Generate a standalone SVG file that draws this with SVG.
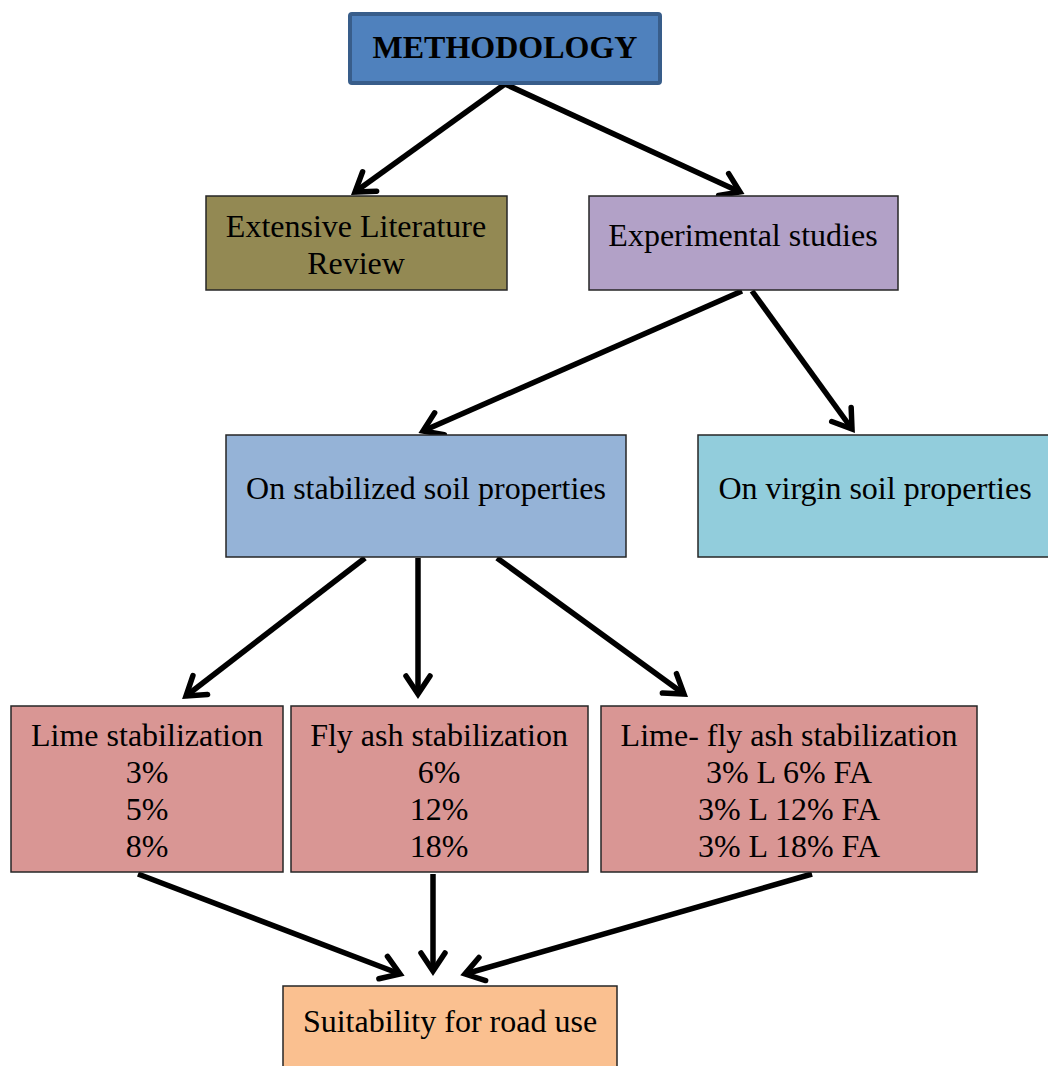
<svg xmlns="http://www.w3.org/2000/svg" width="1048" height="1066" viewBox="0 0 1048 1066">
  <style>
    .box { stroke: #262626; stroke-width: 1.5; }
    .t { font-family: "Liberation Serif", "Times New Roman", serif; font-size: 32px; fill: #000; text-anchor: middle; }
    .tb { font-weight: bold; }
    .edge { stroke: #000; stroke-width: 5.5; fill: none; marker-end: url(#head); }
  </style>
  <defs>
    <marker id="head" markerUnits="userSpaceOnUse" markerWidth="40" markerHeight="40" viewBox="-30 -20 40 40" refX="0" refY="0" orient="auto" overflow="visible">
      <path d="M-18,-12 L0,0 L-18,12" stroke="#000" stroke-width="5.5" fill="none" stroke-linecap="round" stroke-linejoin="miter"/>
    </marker>
  </defs>
  <rect width="1048" height="1066" fill="#fff"/>

  <g id="connectors">
    <line class="edge" x1="505" y1="84" x2="355" y2="192"/>
    <line class="edge" x1="505" y1="84" x2="740" y2="192"/>
    <line class="edge" x1="742" y1="291" x2="423" y2="431"/>
    <line class="edge" x1="752" y1="291" x2="852" y2="429"/>
    <line class="edge" x1="365" y1="558" x2="186" y2="696"/>
    <line class="edge" x1="418" y1="558" x2="418" y2="694"/>
    <line class="edge" x1="497" y1="558" x2="684" y2="694"/>
    <line class="edge" x1="138" y1="874" x2="400" y2="974"/>
    <line class="edge" x1="433" y1="874" x2="433" y2="971"/>
    <line class="edge" x1="812" y1="874" x2="465" y2="974"/>
  </g>

  <g id="methodology">
    <rect x="350" y="14" width="310" height="69" rx="2" fill="#4F81BD" stroke="#385D8A" stroke-width="4"/>
    <text class="t tb" x="505" y="58">METHODOLOGY</text>
  </g>

  <g id="literature-review">
    <rect class="box" x="206" y="196" width="301" height="94" fill="#938953"/>
    <text class="t" x="356" y="237">Extensive Literature</text>
    <text class="t" x="356" y="274">Review</text>
  </g>

  <g id="experimental-studies">
    <rect class="box" x="589" y="196" width="309" height="94" fill="#B2A1C7"/>
    <text class="t" x="743" y="246">Experimental studies</text>
  </g>

  <g id="stabilized-soil">
    <rect class="box" x="226" y="435" width="400" height="122" fill="#95B3D7"/>
    <text class="t" x="426" y="499">On stabilized soil properties</text>
  </g>

  <g id="virgin-soil">
    <rect class="box" x="698" y="435" width="360" height="122" fill="#92CDDC"/>
    <text class="t" x="875" y="499">On virgin soil properties</text>
  </g>

  <g id="lime-stabilization">
    <rect class="box" x="11" y="706" width="272" height="166" fill="#D99694"/>
    <text class="t" x="147" y="746">Lime stabilization</text>
    <text class="t" x="147" y="783">3%</text>
    <text class="t" x="147" y="820">5%</text>
    <text class="t" x="147" y="857">8%</text>
  </g>

  <g id="flyash-stabilization">
    <rect class="box" x="291" y="706" width="297" height="166" fill="#D99694"/>
    <text class="t" x="439" y="746">Fly ash stabilization</text>
    <text class="t" x="439" y="783">6%</text>
    <text class="t" x="439" y="820">12%</text>
    <text class="t" x="439" y="857">18%</text>
  </g>

  <g id="lime-flyash-stabilization">
    <rect class="box" x="601" y="706" width="376" height="166" fill="#D99694"/>
    <text class="t" x="789" y="746">Lime- fly ash stabilization</text>
    <text class="t" x="789" y="783">3% L 6% FA</text>
    <text class="t" x="789" y="820">3% L 12% FA</text>
    <text class="t" x="789" y="857">3% L 18% FA</text>
  </g>

  <g id="road-suitability">
    <rect class="box" x="283" y="986" width="334" height="90" fill="#FAC090"/>
    <text class="t" x="450" y="1032">Suitability for road use</text>
  </g>
</svg>
